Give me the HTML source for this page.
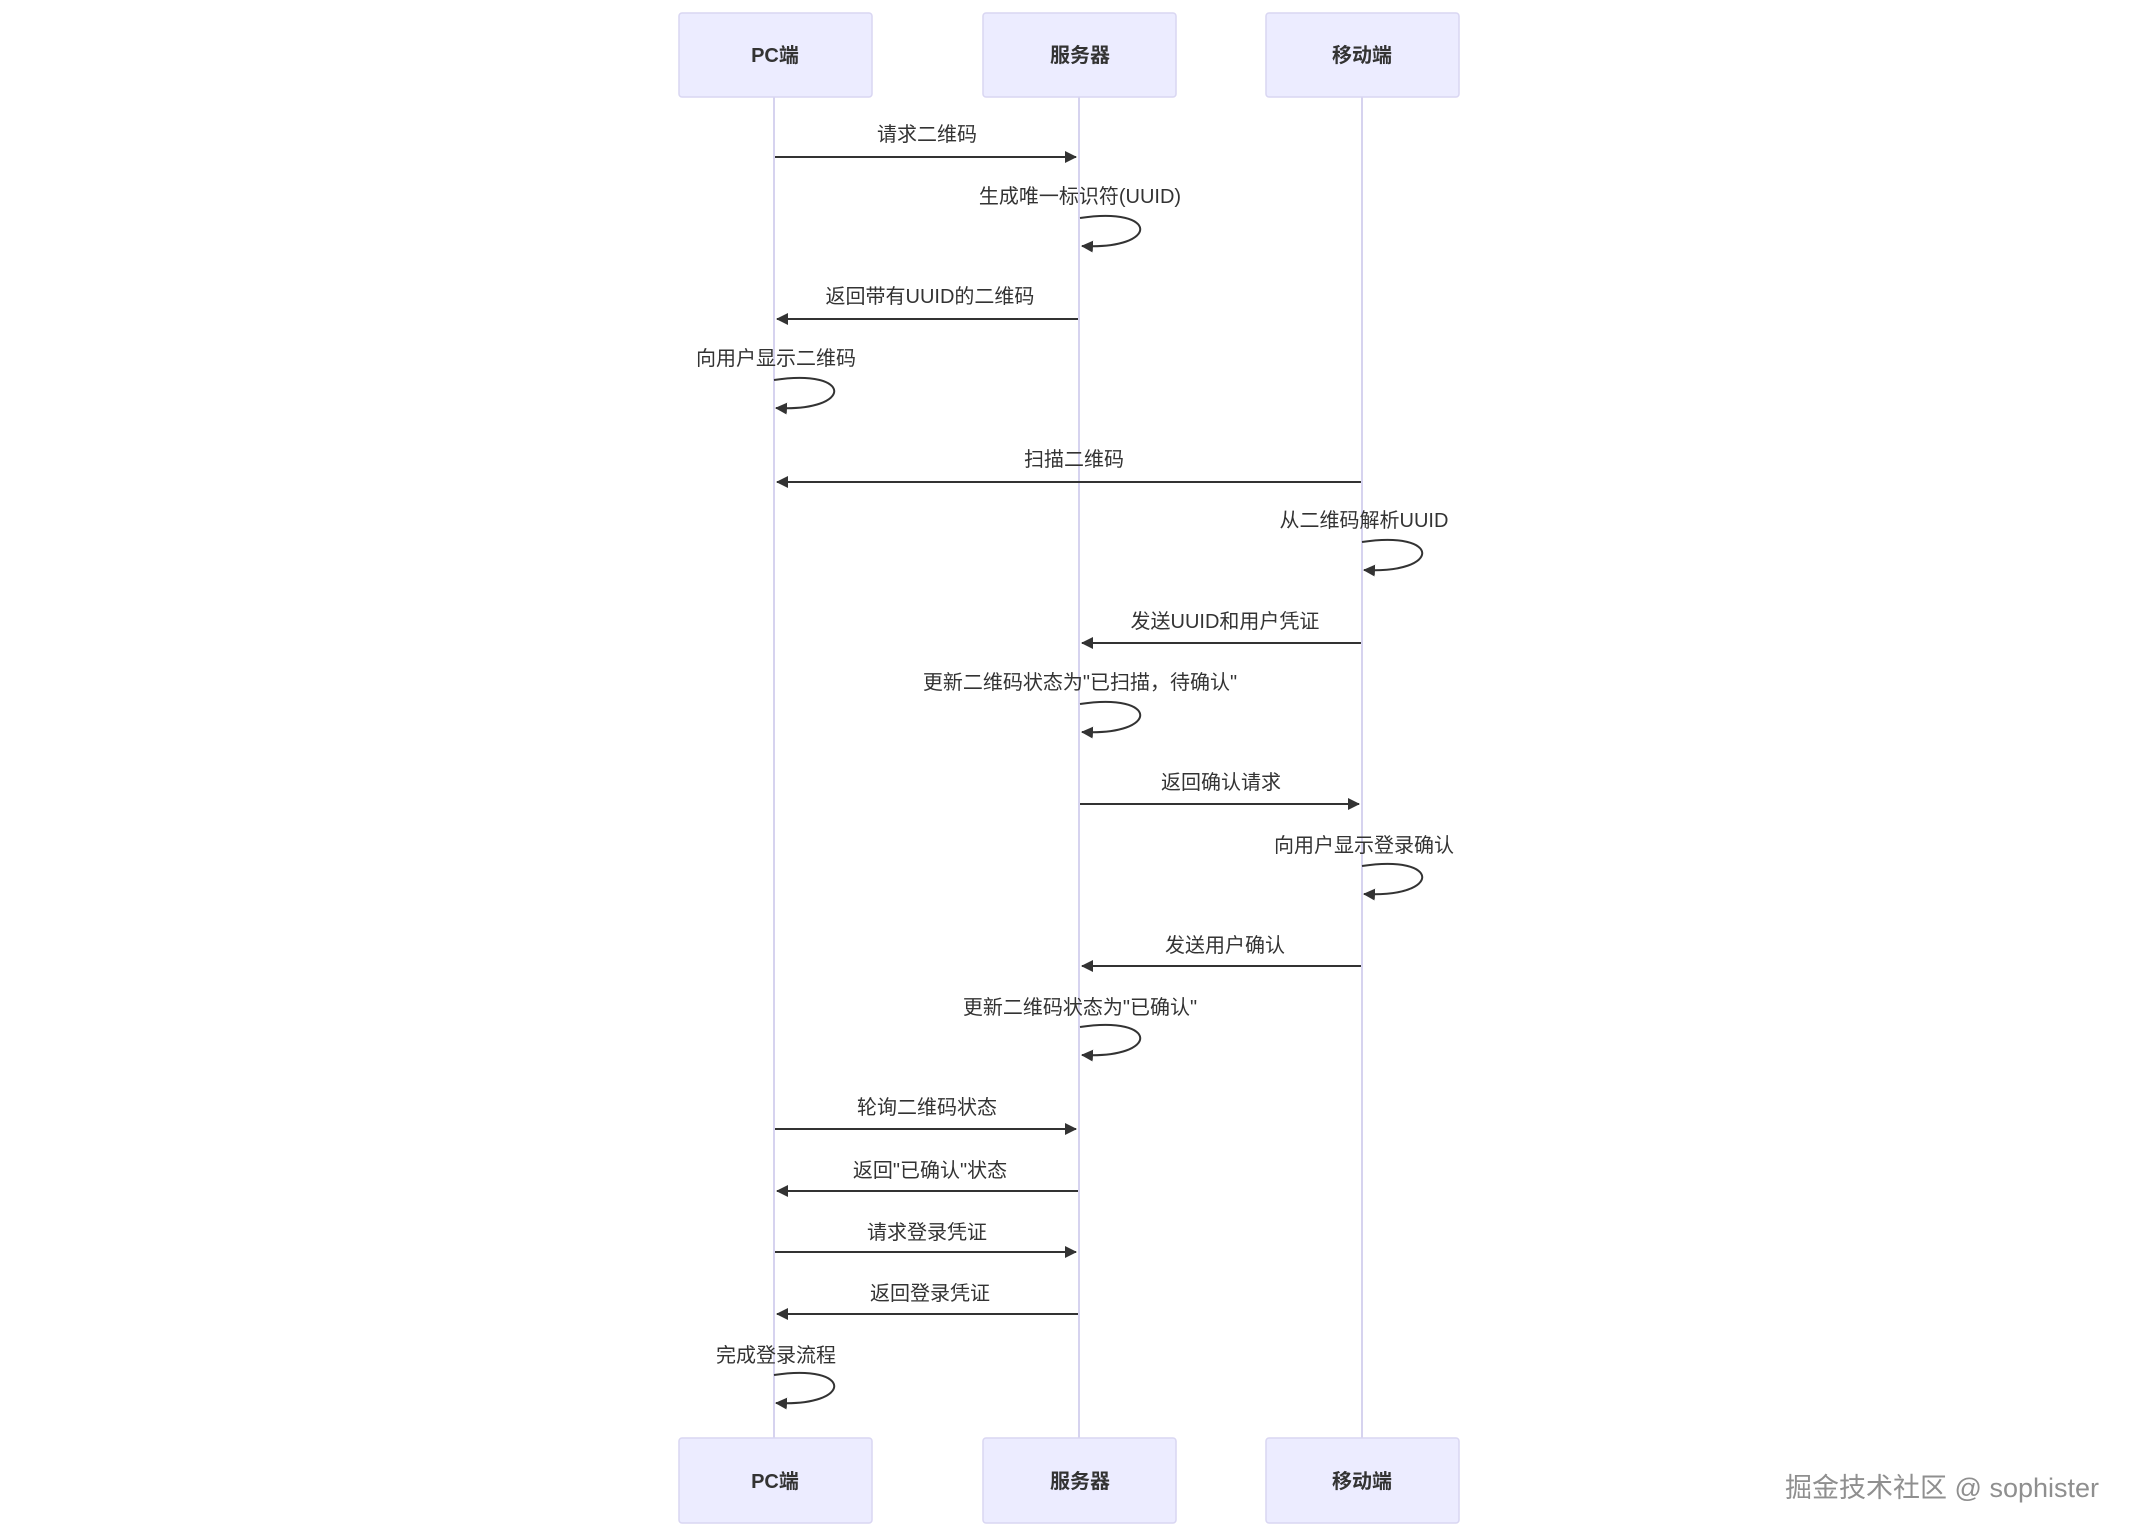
<!DOCTYPE html>
<html><head><meta charset="utf-8"><style>
html,body{margin:0;padding:0;background:#fff;}
svg{display:block;}
text{font-family:"Liberation Sans","Noto Sans CJK SC",sans-serif;fill:#333;}
</style></head><body>
<svg width="2137" height="1536" viewBox="0 0 2137 1536" xmlns="http://www.w3.org/2000/svg">
<defs>
<marker id="ah" viewBox="0 0 12 12" refX="11" refY="6" markerWidth="12" markerHeight="12" markerUnits="userSpaceOnUse" orient="auto">
<path d="M0,0 L12,6 L0,12 z" fill="#333"/>
</marker>
</defs>
<g stroke="#d6d3ef" stroke-width="2">
<line x1="774" y1="97" x2="774" y2="1438"/>
<line x1="1079" y1="97" x2="1079" y2="1438"/>
<line x1="1362" y1="97" x2="1362" y2="1438"/>
</g>
<g fill="#ececff" stroke="#d9d6f2" stroke-width="1.5">
<rect x="679" y="13" width="193" height="84" rx="3"/>
<rect x="983" y="13" width="193" height="84" rx="3"/>
<rect x="1266" y="13" width="193" height="84" rx="3"/>
<rect x="679" y="1438" width="193" height="85" rx="3"/>
<rect x="983" y="1438" width="193" height="85" rx="3"/>
<rect x="1266" y="1438" width="193" height="85" rx="3"/>
</g>
<g font-size="20" text-anchor="middle" font-weight="bold">
<text x="775" y="62" fill="#111">PC端</text>
<text x="1080" y="62" fill="#111">服务器</text>
<text x="1362" y="62" fill="#111">移动端</text>
<text x="775" y="1488" fill="#111">PC端</text>
<text x="1080" y="1488" fill="#111">服务器</text>
<text x="1362" y="1488" fill="#111">移动端</text>
</g>
<g stroke="#333" stroke-width="2" fill="none" marker-end="url(#ah)">
<line x1="775" y1="157" x2="1076" y2="157"/>
<path d="M1080,218 C1160,206 1160,250 1082,246"/>
<line x1="1078" y1="319" x2="777" y2="319"/>
<path d="M774,380 C854,368 854,412 776,408"/>
<line x1="1361" y1="482" x2="777" y2="482"/>
<path d="M1362,542 C1442,530 1442,574 1364,570"/>
<line x1="1361" y1="643" x2="1082" y2="643"/>
<path d="M1080,704 C1160,692 1160,736 1082,732"/>
<line x1="1080" y1="804" x2="1359" y2="804"/>
<path d="M1362,866 C1442,854 1442,898 1364,894"/>
<line x1="1361" y1="966" x2="1082" y2="966"/>
<path d="M1080,1027 C1160,1015 1160,1059 1082,1055"/>
<line x1="775" y1="1129" x2="1076" y2="1129"/>
<line x1="1078" y1="1191" x2="777" y2="1191"/>
<line x1="775" y1="1252" x2="1076" y2="1252"/>
<line x1="1078" y1="1314" x2="777" y2="1314"/>
<path d="M774,1375 C854,1363 854,1407 776,1403"/>
</g>
<g font-size="20" text-anchor="middle">
<text x="927" y="141">请求二维码</text>
<text x="1080" y="203">生成唯一标识符(UUID)</text>
<text x="930" y="303">返回带有UUID的二维码</text>
<text x="776" y="365">向用户显示二维码</text>
<text x="1074" y="466">扫描二维码</text>
<text x="1364" y="527">从二维码解析UUID</text>
<text x="1225" y="628">发送UUID和用户凭证</text>
<text x="1080" y="689">更新二维码状态为"已扫描，待确认"</text>
<text x="1221" y="789">返回确认请求</text>
<text x="1364" y="852">向用户显示登录确认</text>
<text x="1225" y="952">发送用户确认</text>
<text x="1080" y="1014">更新二维码状态为"已确认"</text>
<text x="927" y="1114">轮询二维码状态</text>
<text x="930" y="1177">返回"已确认"状态</text>
<text x="927" y="1239">请求登录凭证</text>
<text x="930" y="1300">返回登录凭证</text>
<text x="776" y="1362">完成登录流程</text>
</g>
<text x="2099" y="1497" font-size="27" text-anchor="end" style="fill:#8f8f8f">掘金技术社区 @ sophister</text>
</svg>
</body></html>
